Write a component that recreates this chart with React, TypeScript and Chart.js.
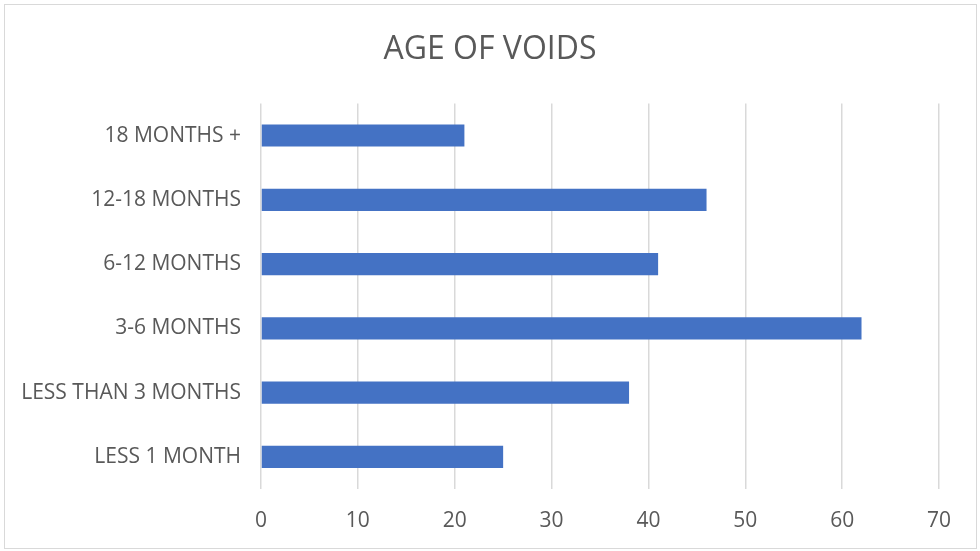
import React, { useEffect, useRef } from "react";
import { Chart, registerables } from "chart.js";

Chart.register(...registerables);

const categories = [
  "18 MONTHS +",
  "12-18 MONTHS",
  "6-12 MONTHS",
  "3-6 MONTHS",
  "LESS THAN 3 MONTHS",
  "LESS 1 MONTH",
];
const values = [21, 46, 41, 62, 38, 25];
const xMin = 0;
const xMax = 70;
const xStep = 10;
const chartTitle = "AGE OF VOIDS";

export default function App() {
  const ref = useRef<HTMLCanvasElement | null>(null);

  useEffect(() => {
    if (!ref.current) return;
    const font = "'Open Sans', Lato, sans-serif";
    const chart = new Chart(ref.current, {
      type: "bar",
      data: {
        labels: categories,
        datasets: [
          {
            data: values,
            backgroundColor: "#4472c4",
            borderWidth: 0,
            categoryPercentage: 1,
            barPercentage: 0.345,
          },
        ],
      },
      options: {
        indexAxis: "y",
        animation: false,
        responsive: false,
        maintainAspectRatio: false,
        layout: { padding: 0 },
        plugins: {
          legend: { display: false },
          tooltip: { enabled: false },
          title: {
            display: true,
            fullSize: true,
            text: chartTitle,
            color: "#595959",
            font: { family: font, size: 32, weight: "normal", lineHeight: 1.2 },
            padding: { top: 31, bottom: 34 },
          },
        },
        scales: {
          x: {
            min: xMin,
            max: xMax,
            ticks: {
              stepSize: xStep,
              color: "#595959",
              font: { family: font, size: 21 },
              padding: 19,
            },
            grid: {
              color: "#d9d9d9",
              lineWidth: 1.5,
              drawTicks: false,
            },
            border: { display: false },
            afterFit: (scale: any) => {
              scale.height = 62;
            },
          },
          y: {
            ticks: {
              color: "#595959",
              font: { family: font, size: 21 },
              padding: 20,
            },
            grid: { display: false, drawTicks: false },
            border: { display: false },
            afterFit: (scale: any) => {
              scale.width = 261;
            },
          },
          yRight: {
            type: "category",
            position: "right",
            labels: categories,
            ticks: { display: false },
            grid: { display: false, drawTicks: false },
            border: { display: false },
            afterFit: (scale: any) => {
              scale.width = 41;
            },
          },
        },
      },
    });
    return () => chart.destroy();
  }, []);

  return (
    <div style={{ position: "absolute", left: 0, top: 0, width: 980, height: 551, background: "#fff" }}>
      <div
        style={{
          position: "absolute",
          left: 4,
          top: 4,
          width: 973,
          height: 545,
          border: "1px solid #d9d9d9",
          boxSizing: "border-box",
        }}
      />
      <canvas ref={ref} width={980} height={551} style={{ position: "absolute", left: 0, top: 0 }} />
    </div>
  );
}
